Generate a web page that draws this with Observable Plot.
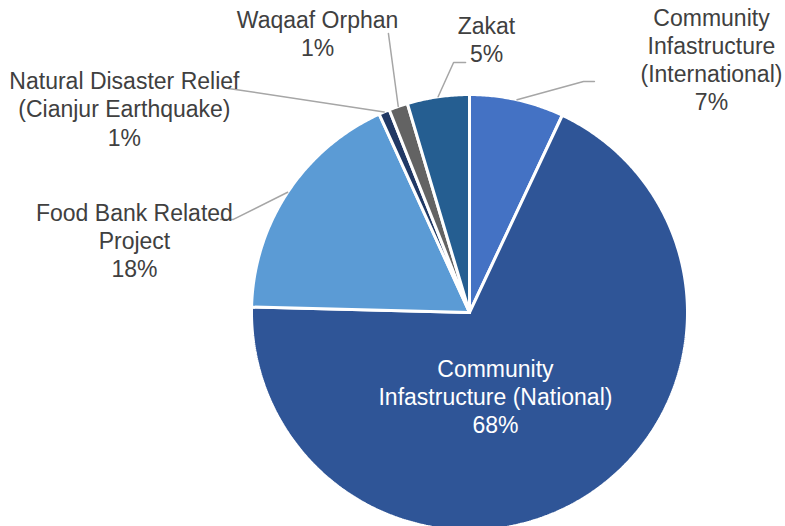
<!DOCTYPE html>
<html>
<head>
<meta charset="utf-8">
<script src="https://cdn.jsdelivr.net/npm/d3@7"></script>
<script src="https://cdn.jsdelivr.net/npm/@observablehq/plot@0.6"></script>
<style>
  html, body { margin: 0; padding: 0; background: #ffffff; }
  #chart svg { display: block; }
</style>
</head>
<body>
<div id="chart"></div>
<script>
// ---- data ----
const categories = [
  "Community Infastructure (International)",
  "Community Infastructure (National)",
  "Food Bank Related Project",
  "Natural Disaster Relief (Cianjur Earthquake)",
  "Waqaaf Orphan",
  "Zakat"
];
const values = [7.0, 68.4, 17.8, 0.8, 1.4, 4.6];
const labelNames = [
  "Community\nInfastructure\n(International)",
  "Community\nInfastructure (National)",
  "Food Bank Related\nProject",
  "Natural Disaster Relief\n(Cianjur Earthquake)",
  "Waqaaf Orphan",
  "Zakat"
];

// ---- styles ----
const colors = ["#4472C4", "#2F5597", "#5B9BD5", "#203864", "#636363", "#255E91"];
const labelColors = ["#404040", "#ffffff", "#404040", "#404040", "#404040", "#404040"];

// ---- label layout (unit-circle coordinates, y up; label y = baseline of last line) ----
const labelPos = [
  [1.110, 0.927],
  [0.119, -0.555],
  [-1.537, 0.161],
  [-1.583, 0.766],
  [-0.697, 1.175],
  [0.078, 1.147]
];
// leader line bends/ends (start is computed from slice mid-angle); null = no leader
const leaderPts = [
  [[0.523, 1.060], [0.573, 1.060]],
  null,
  [[-1.083, 0.427], [-1.142, 0.427]],
  [[-1.106, 1.028]],
  [[-0.372, 1.280]],
  [[-0.073, 1.147], [-0.018, 1.147]]
];

// ---- geometry from data ----
const total = d3.sum(values);
const slices = [];
let acc = 0;
values.forEach((v, i) => {
  const a0 = acc / total * 2 * Math.PI;
  acc += v;
  const a1 = acc / total * 2 * Math.PI;
  slices.push({i, name: categories[i], a0, a1, mid: (a0 + a1) / 2,
               pct: Math.round(v / total * 100) + "%"});
});

const polyPts = [];
slices.forEach(s => {
  polyPts.push({k: s.name, x: 0, y: 0, c: colors[s.i]});
  const n = Math.max(2, Math.ceil((s.a1 - s.a0) / (Math.PI / 360)));
  for (let j = 0; j <= n; j++) {
    const a = s.a0 + (s.a1 - s.a0) * j / n;
    polyPts.push({k: s.name, x: Math.sin(a), y: Math.cos(a), c: colors[s.i]});
  }
  polyPts.push({k: s.name, x: 0, y: 0, c: colors[s.i]});
});

const leaderData = [];
slices.forEach(s => {
  const pts = leaderPts[s.i];
  if (!pts) return;
  leaderData.push({k: s.name, x: Math.sin(s.mid), y: Math.cos(s.mid)});
  pts.forEach(p => leaderData.push({k: s.name, x: p[0], y: p[1]}));
});

const labels = slices.map(s => ({
  x: labelPos[s.i][0], y: labelPos[s.i][1],
  text: labelNames[s.i] + "\n" + s.pct,
  c: labelColors[s.i]
}));

const chart = Plot.plot({
  width: 785,
  height: 526,
  x: {domain: [-1, 1], range: [251, 687], axis: null},
  y: {domain: [-1, 1], range: [530, 94], axis: null},
  color: {type: "identity"},
  style: {background: "#ffffff"},
  marks: [
    Plot.line(polyPts, {x: "x", y: "y", z: "k", fill: "c", stroke: "#ffffff",
                        strokeWidth: 3, strokeLinejoin: "miter", curve: "linear"}),
    Plot.line(leaderData, {x: "x", y: "y", z: "k", stroke: "#A6A6A6", strokeWidth: 1.5}),
    Plot.text(labels, {x: "x", y: "y", text: "text", fill: "c",
                       fontSize: 23, fontFamily: "Liberation Sans, Arial, sans-serif",
                       textAnchor: "middle", lineAnchor: "bottom", lineHeight: 1.23})
  ]
});
document.getElementById("chart").appendChild(chart);
</script>
</body>
</html>
